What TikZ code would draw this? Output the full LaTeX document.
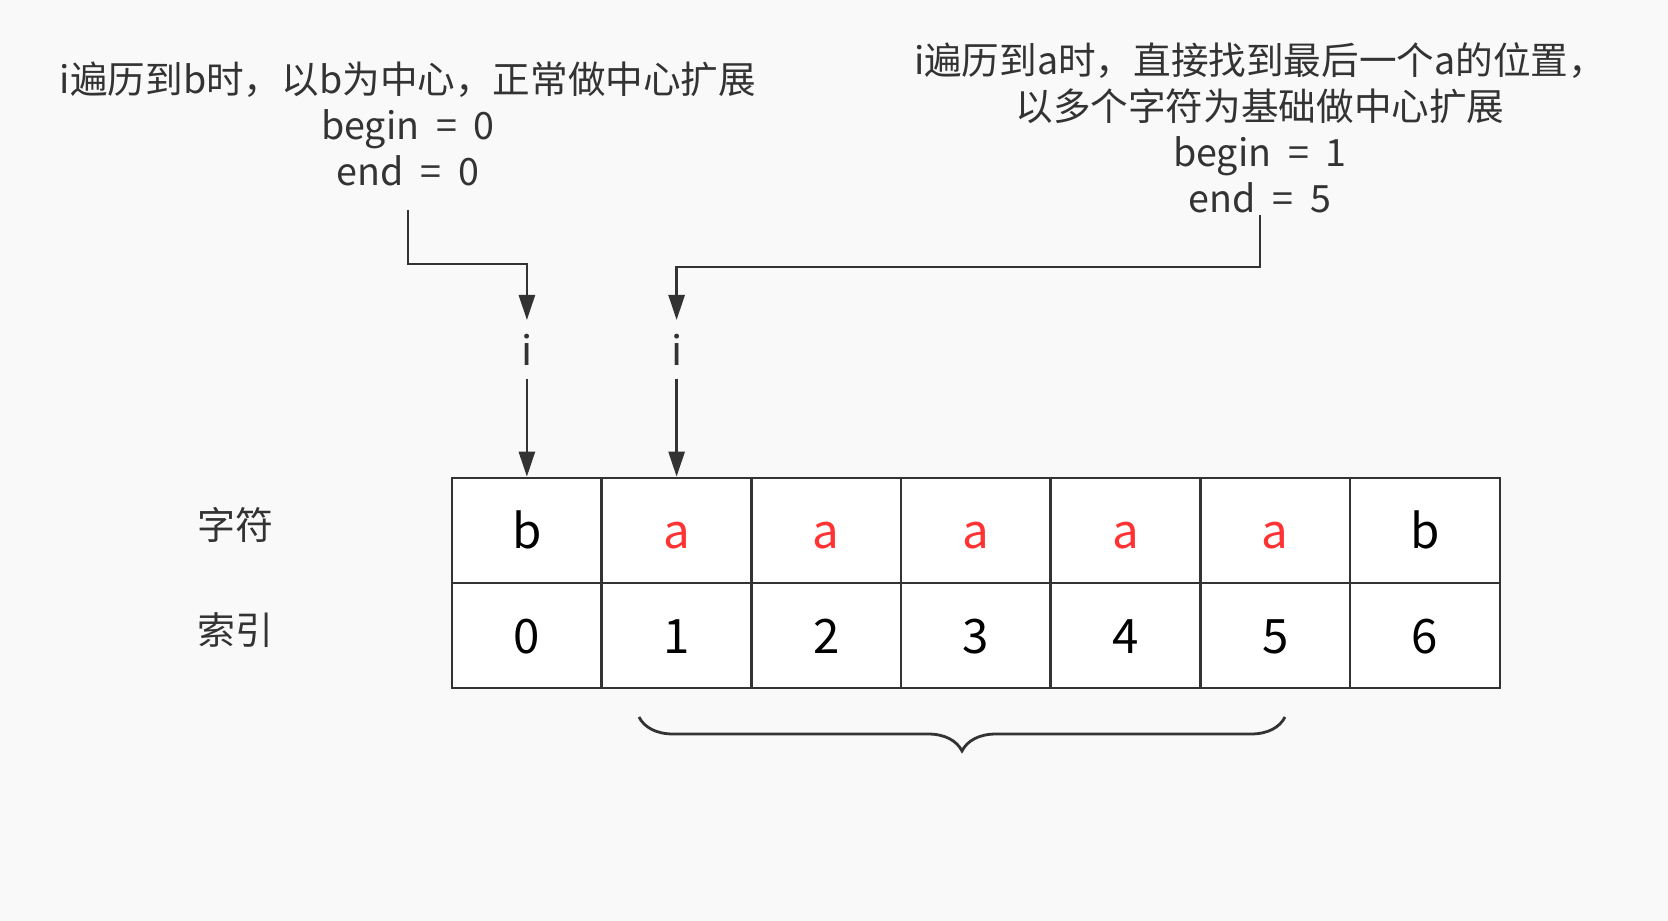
\documentclass[tikz,border=0pt]{standalone}
\usepackage{fontspec}
\setmainfont[WordSpace=2]{Noto Sans CJK SC}
\usetikzlibrary{arrows.meta,decorations.pathreplacing}
\definecolor{bgcol}{HTML}{F9F9F9}
\definecolor{linecol}{HTML}{333333}
\definecolor{redcol}{HTML}{FF3333}
\begin{document}
\begin{tikzpicture}[
  note/.style={align=center, inner sep=0pt, text=linecol, font=\fontsize{10.7}{13.1}\selectfont},
  cell/.style={draw=linecol, fill=white, line width=0.75pt, minimum width=1.497cm, minimum height=1.05cm, inner sep=0pt, text height=10pt, text depth=0pt, font=\fontsize{13.5}{16}\selectfont},
  redcell/.style={cell, text=redcol},
  rowlabel/.style={text=linecol, font=\fontsize{10.8}{13}\selectfont},
  ptr/.style={inner sep=0pt, outer sep=0pt, minimum height=0.59cm, text=linecol, font=\fontsize{11.5}{13}\selectfont},
  link/.style={draw=linecol, line width=0.75pt, -{Triangle[length=0.25cm,width=0.16cm]}}
]
\fill[bgcol] (0,0) rectangle (16.68,-9.21);
% notes above
\node[note, anchor=south] (t1) at (4.08,-1.87) {i遍历到b时，以b为中心，正常做中心扩展\\begin = 0\\end = 0};
\node[note, anchor=south] (t2) at (12.60,-2.14) {i遍历到a时，直接找到最后一个a的位置，\\以多个字符为基础做中心扩展\\begin = 1\\end = 5};
% row labels
\node[rowlabel] (l1) at (2.35,-5.25) {字符};
\node[rowlabel] (l2) at (2.35,-6.30) {索引};
% characters
\node[cell] (c0) at (5.269,-5.305) {b};
\node[redcell] (c1) at (6.766,-5.305) {a};
\node[redcell] (c2) at (8.263,-5.305) {a};
\node[redcell] (c3) at (9.760,-5.305) {a};
\node[redcell] (c4) at (11.256,-5.305) {a};
\node[redcell] (c5) at (12.753,-5.305) {a};
\node[cell] (c6) at (14.250,-5.305) {b};
% indices
\node[cell] (d0) at (5.269,-6.355) {0};
\node[cell] (d1) at (6.766,-6.355) {1};
\node[cell] (d2) at (8.263,-6.355) {2};
\node[cell] (d3) at (9.760,-6.355) {3};
\node[cell] (d4) at (11.256,-6.355) {4};
\node[cell] (d5) at (12.753,-6.355) {5};
\node[cell] (d6) at (14.250,-6.355) {6};
% pointers
\node[ptr] (i0) at (5.269,-3.495) {i};
\node[ptr] (i1) at (6.766,-3.495) {i};
\draw[link] ([yshift=-0.23cm]t1.south) -- ++(0,-0.54) -| (i0.north);
\draw[link] ([yshift=-0.01cm]t2.south) -- ++(0,-0.52) -| (i1.north);
\draw[link] (i0.south) -- (c0.north);
\draw[link] (i1.south) -- (c1.north);
% brace under 1..5
\draw[linecol, line width=0.8pt, decorate, decoration={brace, amplitude=0.34cm}] (12.85,-7.17) -- (6.39,-7.17);
\end{tikzpicture}
\end{document}
